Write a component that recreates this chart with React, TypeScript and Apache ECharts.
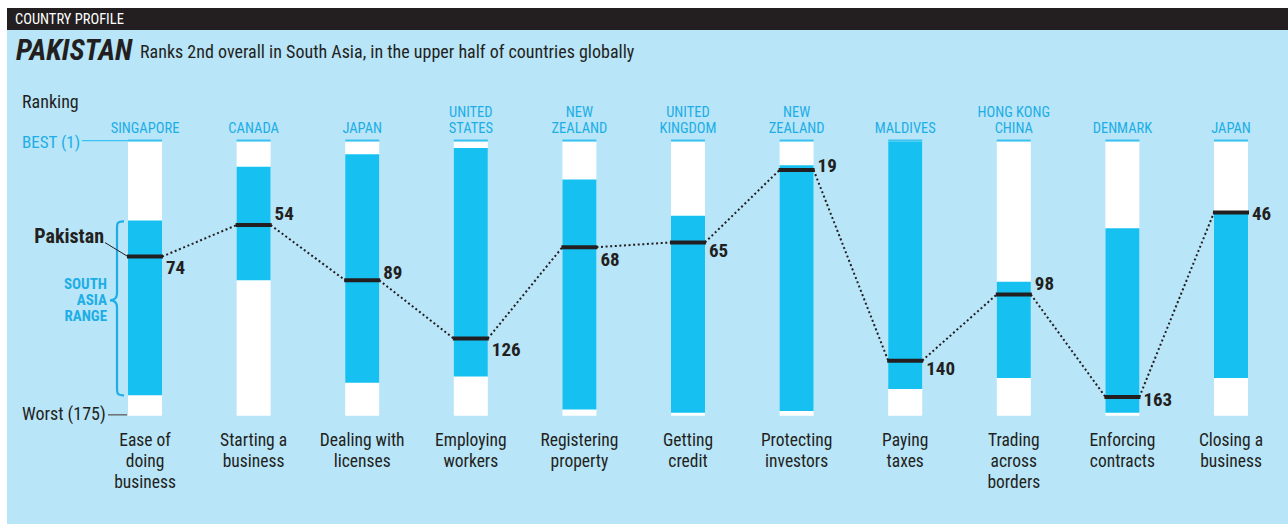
import React, { useEffect, useRef } from "react";
import * as echarts from "echarts";

// ---- data ----
const categories = [
  "Ease of\ndoing\nbusiness",
  "Starting a\nbusiness",
  "Dealing with\nlicenses",
  "Employing\nworkers",
  "Registering\nproperty",
  "Getting\ncredit",
  "Protecting\ninvestors",
  "Paying\ntaxes",
  "Trading\nacross\nborders",
  "Enforcing\ncontracts",
  "Closing a\nbusiness",
];
const bestCountries = [
  "SINGAPORE",
  "CANADA",
  "JAPAN",
  "UNITED\nSTATES",
  "NEW\nZEALAND",
  "UNITED\nKINGDOM",
  "NEW\nZEALAND",
  "MALDIVES",
  "HONG KONG\nCHINA",
  "DENMARK",
  "JAPAN",
];
const pakistanRank = [74, 54, 89, 126, 68, 65, 19, 140, 98, 163, 46];
const regionBest = [51, 17, 9, 5, 25, 48, 16, 1, 90, 56, 46];
const regionWorst = [162, 89, 154, 150, 171, 173, 172, 158, 151, 173, 151];
const RANK_BEST = 1;
const RANK_WORST = 175;

// ---- styles ----
const labelDy = [11, -12, -8, 11, 12, 8, -4, 8, -11, 3, 1];
const FONT = '"Liberation Sans Narrow", "Arial Narrow", "Roboto Condensed", Roboto, sans-serif';
const CYAN_TEXT = "#1daee6";
const CAP = "#3cc2f0";
const BAR_BLUE = "#16c1f2";
const PANEL = "#b8e5f8";
const INK = "#231f20";

export default function App() {
  const ref = useRef<HTMLDivElement>(null);

  useEffect(() => {
    const chart = echarts.init(ref.current!, null, { renderer: "svg" });
    const BAR_W = 34;
    const half = BAR_W / 2;
    const idx = categories.map((_, i) => i);

    const option: any = {
      animation: false,
      grid: { left: 90.7, right: 2.7, top: 140, bottom: 108.2 },
      graphic: [
        { type: "rect", z: -10, shape: { x: 7, y: 30, width: 1281, height: 494 }, style: { fill: PANEL } },
        { type: "rect", z: -10, shape: { x: 7, y: 8, width: 1281, height: 22 }, style: { fill: INK } },
        {
          type: "text", x: 15, y: 19,
          style: { text: "COUNTRY PROFILE", fill: "#fff", fontFamily: FONT, fontSize: 14.5, verticalAlign: "middle" },
        },
        {
          type: "text", x: 16, y: 50,
          style: { text: "PAKISTAN", fill: INK, fontFamily: FONT, fontSize: 29, fontWeight: "bold", fontStyle: "italic", verticalAlign: "middle" },
        },
        {
          type: "text", x: 140, y: 51,
          style: { text: "Ranks 2nd overall in South Asia, in the upper half of countries globally", fill: INK, fontFamily: FONT, fontSize: 18, verticalAlign: "middle" },
        },
        {
          type: "text", x: 22, y: 101,
          style: { text: "Ranking", fill: INK, fontFamily: FONT, fontSize: 18, verticalAlign: "middle" },
        },
      ],
      xAxis: [
        {
          type: "category", data: categories, position: "bottom",
          axisLine: { show: false }, axisTick: { show: false }, splitLine: { show: false },
          axisLabel: { interval: 0, color: INK, fontFamily: FONT, fontSize: 17.5, lineHeight: 21, margin: 14 },
        },
        {
          type: "category", data: bestCountries, position: "top",
          axisLine: { show: false }, axisTick: { show: false }, splitLine: { show: false },
          axisLabel: { interval: 0, color: CYAN_TEXT, fontFamily: FONT, fontSize: 14.5, lineHeight: 16, margin: 4 },
        },
      ],
      yAxis: { type: "value", inverse: true, min: 0, max: 175, show: false },
      series: [
        // white full-range columns
        {
          type: "custom", z: 3,
          data: idx.map((i) => [i, RANK_BEST, RANK_WORST]),
          renderItem: (_p: any, api: any) => {
            const top = api.coord([api.value(0), api.value(1)]);
            const bot = api.coord([api.value(0), api.value(2)]);
            return {
              type: "group",
              children: [
                { type: "rect", shape: { x: top[0] - half, y: top[1], width: BAR_W, height: bot[1] - top[1] }, style: { fill: "#ffffff" } },
                { type: "rect", shape: { x: top[0] - half, y: top[1] - 2, width: BAR_W, height: 2 }, style: { fill: CAP } },
              ],
            };
          },
        },
        // South Asia range
        {
          type: "custom", z: 4,
          data: idx.map((i) => [i, regionBest[i], regionWorst[i]]),
          renderItem: (_p: any, api: any) => {
            const top = api.coord([api.value(0), api.value(1)]);
            const bot = api.coord([api.value(0), api.value(2)]);
            return { type: "rect", shape: { x: top[0] - half, y: top[1], width: BAR_W, height: bot[1] - top[1] }, style: { fill: BAR_BLUE } };
          },
        },
        // dotted connectors
        {
          type: "custom", z: 5,
          data: idx.slice(0, -1).map((i) => [i, pakistanRank[i], i + 1, pakistanRank[i + 1]]),
          renderItem: (_p: any, api: any) => {
            const a = api.coord([api.value(0), api.value(1)]);
            const b = api.coord([api.value(2), api.value(3)]);
            return {
              type: "line",
              shape: { x1: a[0] + half, y1: a[1], x2: b[0] - half, y2: b[1] },
              style: { stroke: INK, lineWidth: 2, lineDash: [2, 2.6] },
            };
          },
        },
        // Pakistan markers + labels
        {
          type: "custom", z: 6,
          data: idx.map((i) => [i, pakistanRank[i]]),
          renderItem: (p: any, api: any) => {
            const c = api.coord([api.value(0), api.value(1)]);
            return {
              type: "group",
              children: [
                { type: "rect", shape: { x: c[0] - half - 1, y: c[1] - 2, width: BAR_W + 2, height: 4 }, style: { fill: INK } },
                {
                  type: "text",
                  style: {
                    text: String(api.value(1)), x: c[0] + half + 4, y: c[1] + labelDy[p.dataIndex],
                    fill: INK, fontFamily: FONT, fontSize: 19, fontWeight: "bold", verticalAlign: "middle", align: "left",
                  },
                },
              ],
            };
          },
        },
        // left annotations: brace, Pakistan label, BEST / Worst
        {
          type: "custom", z: 6,
          data: [[0, regionBest[0], regionWorst[0], pakistanRank[0], RANK_BEST, RANK_WORST]],
          renderItem: (_p: any, api: any) => {
            const t = api.coord([0, api.value(1)]);
            const b = api.coord([0, api.value(2)]);
            const m = api.coord([0, api.value(3)]);
            const best = api.coord([0, api.value(4)]);
            const worst = api.coord([0, api.value(5)]);
            const barL = t[0] - half;
            const xR = barL - 5, xS = barL - 11, xT = barL - 18;
            const yT = t[1] + 1, yB = b[1];
            const yM = yT + (yB - yT) * 0.454;
            const d =
              `M${xR + 1},${yT} C${xS},${yT} ${xS},${yT + 2} ${xS},${yT + 7} ` +
              `L${xS},${yM - 7} C${xS},${yM - 2} ${xS - 2},${yM} ${xT},${yM} ` +
              `C${xS - 2},${yM} ${xS},${yM + 2} ${xS},${yM + 7} ` +
              `L${xS},${yB - 7} C${xS},${yB - 2} ${xS},${yB} ${xR + 1},${yB}`;
            return {
              type: "group",
              children: [
                { type: "path", shape: { pathData: d }, style: { fill: "none", stroke: CYAN_TEXT, lineWidth: 2.2 } },
                {
                  type: "text",
                  style: {
                    text: "SOUTH\nASIA\nRANGE", x: barL - 21, y: yM, align: "right", verticalAlign: "middle",
                    fill: CYAN_TEXT, fontFamily: FONT, fontSize: 15, fontWeight: "bold", lineHeight: 16,
                  },
                },
                {
                  type: "text",
                  style: {
                    text: "Pakistan", x: barL - 24, y: m[1] - 21, align: "right", verticalAlign: "middle",
                    fill: INK, fontFamily: FONT, fontSize: 20, fontWeight: "bold",
                  },
                },
                { type: "line", shape: { x1: barL - 23, y1: m[1] - 14, x2: barL, y2: m[1] }, style: { stroke: INK, lineWidth: 1 } },
                {
                  type: "text",
                  style: { text: "BEST (1)", x: 22, y: best[1], align: "left", verticalAlign: "middle", fill: CYAN_TEXT, fontFamily: FONT, fontSize: 17 },
                },
                { type: "line", shape: { x1: 82, y1: best[1] - 1, x2: barL, y2: best[1] - 1 }, style: { stroke: CAP, lineWidth: 1.2 } },
                {
                  type: "text",
                  style: { text: "Worst (175)", x: 22, y: worst[1] - 2, align: "left", verticalAlign: "middle", fill: INK, fontFamily: FONT, fontSize: 18 },
                },
                { type: "line", shape: { x1: 108, y1: worst[1] - 1, x2: barL - 1, y2: worst[1] - 1 }, style: { stroke: "#6d6e71", lineWidth: 1.5 } },
              ],
            };
          },
        },
      ],
    };

    chart.setOption(option);
    return () => chart.dispose();
  }, []);

  return (
    <div
      ref={ref}
      style={{ position: "fixed", left: 0, top: 0, width: 1288, height: 524, background: "#fff" }}
    />
  );
}
